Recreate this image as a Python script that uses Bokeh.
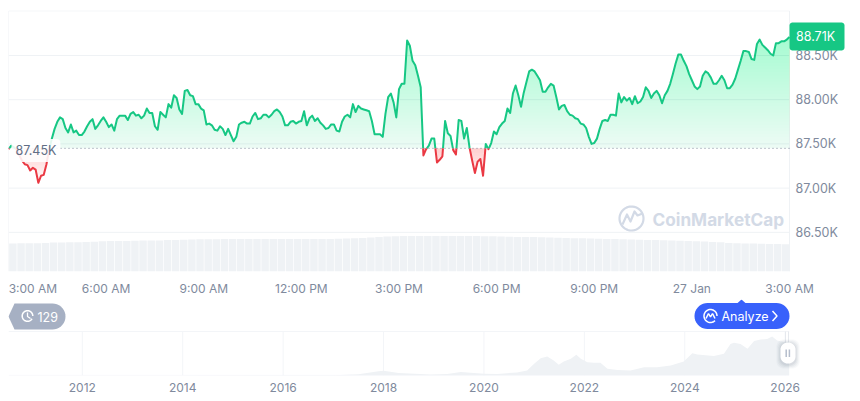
import numpy as np
from bokeh.core.properties import value
from bokeh.embed import file_html
from bokeh.layouts import column
from bokeh.models import FixedTicker, Label, PolyAnnotation, Range1d
from bokeh.plotting import figure
from bokeh.resources import INLINE

# ---- data -----------------------------------------------------------------
baseline_k = 87.45
last_k = 88.71
# price in thousands, one value per 5-minute sample (sample 0 = 3:00 AM)
price_k = [
 87.44,87.48,87.46,87.44,87.37,87.31,87.27,87.26,87.20,87.23,87.21,87.06,87.14,87.15,87.27,87.44,
 87.56,87.67,87.75,87.80,87.78,87.68,87.63,87.72,87.63,87.65,87.60,87.60,87.64,87.70,87.75,87.78,
 87.67,87.71,87.76,87.80,87.75,87.69,87.72,87.65,87.78,87.82,87.82,87.82,87.77,87.84,87.86,87.82,
 87.83,87.79,87.82,87.90,87.85,87.85,87.70,87.66,87.86,87.83,87.80,87.95,87.91,88.05,88.02,87.89,
 87.84,88.10,88.11,88.05,88.04,87.95,87.95,87.90,87.88,87.72,87.73,87.71,87.66,87.65,87.70,87.67,
 87.60,87.67,87.60,87.53,87.58,87.72,87.74,87.75,87.73,87.73,87.81,87.85,87.78,87.79,87.83,87.83,
 87.80,87.83,87.87,87.89,87.86,87.81,87.71,87.71,87.75,87.76,87.73,87.75,87.76,87.87,87.71,87.79,
 87.82,87.76,87.79,87.74,87.71,87.67,87.68,87.72,87.72,87.65,87.64,87.75,87.81,87.83,87.80,87.95,
 87.86,87.93,87.90,87.89,87.88,87.87,87.76,87.61,87.61,87.61,87.58,87.84,88.03,88.07,87.97,87.80,
 88.12,88.18,88.18,88.67,88.61,88.44,88.39,88.27,88.14,87.37,87.44,87.48,87.56,87.56,87.29,87.32,
 87.36,87.76,87.62,87.59,87.43,87.38,87.77,87.76,87.56,87.68,87.46,87.31,87.17,87.30,87.33,87.14,
 87.50,87.44,87.51,87.64,87.61,87.69,87.73,87.76,87.90,87.85,88.07,88.16,88.05,87.92,88.08,88.20,
 88.32,88.34,88.32,88.27,88.22,88.09,88.09,88.14,88.18,88.16,88.03,87.89,87.93,87.94,87.87,87.83,
 87.82,87.79,87.78,87.73,87.72,87.68,87.58,87.50,87.51,87.56,87.67,87.76,87.77,87.76,87.83,87.83,
 87.82,88.07,87.97,88.03,87.99,88.02,87.95,88.04,87.96,87.98,88.03,88.14,88.10,88.02,88.07,88.10,
 88.05,87.96,88.05,88.10,88.18,88.29,88.41,88.51,88.51,88.44,88.38,88.29,88.22,88.15,88.12,88.15,
 88.27,88.32,88.30,88.25,88.18,88.18,88.22,88.27,88.22,88.13,88.13,88.17,88.24,88.34,88.44,88.55,
 88.55,88.54,88.46,88.45,88.63,88.68,88.62,88.59,88.56,88.52,88.50,88.64,88.64,88.66,88.66,88.68,
 88.71]
# volume, one value per 15 minutes
volume_bn = [
 28.0,28.0,28.2,28.3,28.3,28.6, 29.0,29.0,29.2,29.3,29.5,29.7,
 30.3,30.4,30.5,30.6,30.7,30.9, 31.0,31.1,31.4,31.6,31.8,32.0,
 32.2,32.3,32.3,32.4,32.4,32.4, 32.4,32.5,32.5,32.5,32.5,32.5,
 32.5,32.5,32.6,32.6,32.6,32.7, 33.0,33.2,33.5,34.0,34.6,35.0,
 35.2,35.4,35.5,35.6,35.6,35.6, 35.6,35.5,35.6,35.5,35.4,35.3,
 35.2,35.0,34.8,34.6,34.5,34.4, 34.2,34.0,33.8,33.5,33.3,33.2,
 33.0,32.8,32.6,32.4,32.2,32.0, 31.8,31.6,31.4,31.2,31.0,30.8,
 30.5,30.2,30.0,29.6,29.2,28.6, 28.2,28.0,28.0,27.8,27.6,27.4, 27.2]
# the first tick label sits just inside the plot, as in the reference
time_ticks = [9, 36, 72, 108, 144, 180, 216, 252, 288]
time_labels = ["3:00 AM", "6:00 AM", "9:00 AM", "12:00 PM", "3:00 PM", "6:00 PM", "9:00 PM", "27 Jan", "3:00 AM"]
price_ticks = [86.5, 87.0, 87.5, 88.0, 88.5]
price_labels = ["86.50K", "87.00K", "87.50K", "88.00K", "88.50K"]
nav_year = [2010.53, 2013.0, 2016.0, 2017.0, 2017.5, 2017.9, 2018.0, 2018.3, 2018.94, 2019.27, 2019.54, 2019.80,
            2020.0, 2020.27, 2020.66, 2020.86, 2021.0, 2021.13, 2021.26, 2021.39, 2021.49, 2021.59, 2021.73,
            2021.84, 2021.93, 2022.06, 2022.19, 2022.32, 2022.46, 2022.66, 2022.92, 2023.19, 2023.45, 2023.72,
            2023.98, 2024.15, 2024.25, 2024.58, 2024.78, 2024.91, 2024.98, 2025.11, 2025.25, 2025.38, 2025.51,
            2025.64, 2025.74, 2025.84, 2025.98, 2026.08]
nav_price_k = [0, 0.1, 0.5, 1, 4, 14, 15, 8, 3, 5, 11, 8, 6, 5, 10, 16, 38, 56, 61, 48, 35, 45, 54, 67, 54, 43, 41,
               41, 22, 18, 16, 27, 27, 32, 45, 72, 68, 63, 70, 102, 106, 102, 86, 111, 116, 118, 126, 113, 108, 108]
nav_ticks = [2012, 2014, 2016, 2018, 2020, 2022, 2024, 2026]
history_count = "129"

# ---- style ----------------------------------------------------------------
GREEN, RED = "#16C784", "#EA3943"
GRID, AXIS = "#EFF2F5", "#808A9D"
FONT = "Inter"
NAV_CANVAS_TOP = 299
TICK_FONT = "12px"
PRICE_FONT = "12.5px"


def rounded(x0, y0, x1, y1, r):
    t = np.linspace(0, np.pi / 2, 10)
    xs = np.r_[x1 - r + r * np.sin(t), x1 - r + r * np.cos(t), x0 + r - r * np.sin(t), x0 + r - r * np.cos(t)]
    ys = np.r_[y0 + r - r * np.cos(t), y1 - r + r * np.sin(t), y1 - r + r * np.cos(t), y0 + r - r * np.sin(t)]
    return xs, ys


def ring(cx, cy, r):
    t = np.linspace(0, 2 * np.pi, 48)
    return cx + r * np.cos(t), cy + r * np.sin(t)


def style_axis(ax):
    ax.axis_line_color = None
    ax.major_tick_line_color = None
    ax.minor_tick_line_color = None
    ax.major_tick_out = 0
    ax.major_tick_in = 0
    ax.minor_tick_out = 0
    ax.minor_tick_in = 0
    ax.major_label_text_font = FONT
    ax.major_label_text_font_size = TICK_FONT
    ax.major_label_text_color = AXIS


# ---- main chart -----------------------------------------------------------
p = figure(width=860, height=299, output_backend="svg", toolbar_location=None,
           x_range=Range1d(0, 314.18), y_range=Range1d(86.057, 89.009),
           x_axis_location="below", y_axis_location=None,
           min_border_left=8, min_border_top=10, min_border_bottom=28, min_border_right=0)
p.outline_line_color = None
p.background_fill_color = "white"
p.border_fill_color = "white"
p.grid.visible = False
p.extra_y_ranges["vol"] = Range1d(0, 261)
p.extra_x_ranges["px"] = Range1d(8, 860)
p.extra_y_ranges["px"] = Range1d(271, 10)

p.xaxis.ticker = FixedTicker(ticks=time_ticks)
p.xaxis.major_label_overrides = dict(zip(time_ticks, time_labels))
p.xaxis.major_label_standoff = 9
style_axis(p.xaxis[0])

end_x = len(price_k) - 1
p.segment(x0=0, x1=end_x, y0=price_ticks, y1=price_ticks, line_color=GRID)
p.segment(x0=[0, end_x, 0], x1=[0, end_x, end_x], y0=[86.057, 86.057, 89.005], y1=[89.005, 89.005, 89.005], line_color=GRID)
p.text(x=[795] * len(price_ticks), y=price_ticks, text=price_labels, x_range_name="px",
       text_font=value(FONT), text_font_size=value(PRICE_FONT), text_color=AXIS, text_baseline="middle", text_align="left")

vol_x = np.arange(len(volume_bn)) * 3 - 1.375
p.vbar(x=vol_x, top=volume_bn, bottom=0, width=2.75, y_range_name="vol",
       fill_color=GRID, line_color=None)

samples = np.arange(len(price_k))
dense_x = np.linspace(0, samples[-1], 1153)
dense_y = np.interp(dense_x, samples, price_k)

p.varea(dense_x, y1=baseline_k, y2=np.maximum(dense_y, baseline_k), fill_color=GREEN, fill_alpha=0.08)
for level in np.arange(baseline_k + 0.02, 88.75, 0.035):
    p.varea(dense_x, y1=level, y2=np.maximum(dense_y, level), fill_color=GREEN, fill_alpha=0.0065)
for level in np.arange(87.05, baseline_k, 0.035):
    p.varea(dense_x, y1=baseline_k, y2=np.clip(dense_y, level, baseline_k), fill_color=RED, fill_alpha=0.02)

# split the price line where it crosses the baseline
runs = {True: ([], []), False: ([], [])}
cur_x, cur_y = [samples[0]], [price_k[0]]
for i in range(1, len(price_k)):
    a, b = price_k[i - 1], price_k[i]
    if (a >= baseline_k) != (b >= baseline_k):
        cross = samples[i - 1] + (baseline_k - a) / (b - a)
        cur_x.append(cross)
        cur_y.append(baseline_k)
        runs[a >= baseline_k][0].append(cur_x)
        runs[a >= baseline_k][1].append(cur_y)
        cur_x, cur_y = [cross], [baseline_k]
    cur_x.append(samples[i])
    cur_y.append(b)
runs[price_k[-1] >= baseline_k][0].append(cur_x)
runs[price_k[-1] >= baseline_k][1].append(cur_y)
p.multi_line(runs[True][0], runs[True][1], line_color=GREEN, line_width=2, line_join="round")
p.multi_line(runs[False][0], runs[False][1], line_color=RED, line_width=2, line_join="round")

p.line([0, end_x], [baseline_k, baseline_k], line_color=AXIS, line_width=1, line_dash=[1, 3])

# watermark
WM = "#D3DAE6"
wx, wy = ring(631, 218, 12)
p.line(wx, wy, x_range_name="px", y_range_name="px", line_color=WM, line_width=2.2)
p.line([622, 626.5, 630, 634, 637, 642], [224, 214, 221, 211, 215, 213], x_range_name="px", y_range_name="px",
       line_color=WM, line_width=2.2, line_join="round")
p.add_layout(Label(x=652, y=219, x_range_name="px", y_range_name="px", text="CoinMarketCap", text_font=FONT,
                   text_font_style="bold", text_font_size="17.2px", text_color=WM, text_baseline="middle"))

p.add_layout(Label(x=11, y=150, x_units="canvas", y_units="canvas", text=f"{baseline_k:.2f}K", text_font=FONT,
                   text_font_size=PRICE_FONT, text_color="#616E85", text_baseline="middle",
                   background_fill_color="white", background_fill_alpha=0.88, padding=4, border_radius=4))
bx, by = rounded(789, 22, 844, 50, 3)
p.add_layout(PolyAnnotation(xs=list(bx), ys=list(by), xs_units="canvas", ys_units="canvas",
                            fill_color=GREEN, fill_alpha=1, line_color=None))
p.add_layout(Label(x=795.5, y=36, x_units="canvas", y_units="canvas", text=f"{last_k:.2f}K", text_font=FONT,
                   text_font_size=PRICE_FONT, text_color="white", text_baseline="middle"))

# ---- navigator ------------------------------------------------------------
NAV_TOP = 141.9
nav = figure(width=860, height=102, output_backend="svg", toolbar_location=None,
             x_range=Range1d(2010.53, 2027.5), y_range=Range1d(0, 245.16),
             min_border_left=8, min_border_top=0, min_border_bottom=26, min_border_right=0)
nav.outline_line_color = None
nav.grid.visible = False
nav.yaxis.visible = False
nav.extra_x_ranges["px"] = Range1d(8, 860)
nav.extra_y_ranges["px"] = Range1d(375, NAV_CANVAS_TOP)
nav.xaxis.ticker = FixedTicker(ticks=nav_ticks)
nav.xaxis.major_label_overrides = {t: str(t) for t in nav_ticks}
nav.xaxis.major_label_standoff = 7
style_axis(nav.xaxis[0])

nav.segment(x0=nav_ticks, x1=nav_ticks, y0=0, y1=NAV_TOP, line_color="#F3F5F8", line_width=1)
nav.segment(x0=nav_year[0], x1=nav_year[-1], y0=NAV_TOP, y1=NAV_TOP, line_color="#F3F5F8", line_width=1)
nav.segment(x0=nav_year[0], x1=nav_year[-1], y0=0.3, y1=0.3, line_color="#F3F5F8", line_width=1)
nav.varea(nav_year, y1=0, y2=nav_price_k, fill_color=GRID)

px = dict(x_range_name="px", y_range_name="px")
# selection edges and handle
nav.segment(x0=[785, 788], x1=[785, 788], y0=[331, 331], y1=[345, 345], line_color="#E6E9EE", **px)
for grow, alpha in [(4, 0.04), (3, 0.05), (2, 0.06), (1, 0.08)]:
    xs, ys = rounded(780 - grow, 342 - grow + 1, 795 + grow, 363 + grow + 1, 7)
    nav.patch(xs, ys, fill_color="#58667E", fill_alpha=alpha, line_color=None, **px)
xs, ys = rounded(780, 342, 795, 363, 7)
nav.patch(xs, ys, fill_color="white", line_color=None, **px)
nav.segment(x0=[785.7, 788.9], x1=[785.7, 788.9], y0=[349, 349], y1=[356.5, 356.5], line_color="#B5BDCC", line_width=1.5, **px)

# history badge
hx, hy = rounded(12, 303, 65, 329, 13)
keep = hx > 30
nav.patch(np.r_[hx[keep], 14, 8, 14], np.r_[hy[keep], 329, 316, 303], fill_color="#A6B0C3", line_color=None, **px)
cx, cy = ring(27, 315.5, 5.3)
nav.line(cx[4:], cy[4:], line_color="white", line_width=1.5, **px)
nav.line([27, 27, 30], [312, 316, 318], line_color="white", line_width=1.3, **px)
nav.add_layout(Label(x=37, y=316, text=history_count, text_font=FONT, text_font_size="12.5px", text_color="white",
                     text_baseline="middle", **px))

# analyze badge
ax_, ay_ = rounded(694, 302.5, 789, 328.5, 13)
nav.patch(ax_, ay_, fill_color="#3861FB", line_color=None, **px)
nav.patch([736.5, 741, 745.5], [303, 299, 303], fill_color="#3861FB", line_color=None, **px)
rx, ry = ring(710, 315.5, 6.5)
nav.line(rx[6:], ry[6:], line_color="white", line_width=1.5, **px)
nav.line([705.5, 708, 710, 712, 714.5], [318, 313, 316.5, 313, 318], line_color="white", line_width=1.5, **px)
nav.add_layout(Label(x=721, y=316, text="Analyze", text_font=FONT, text_font_size="12.5px", text_color="white",
                     text_baseline="middle", **px))
nav.line([772, 776.5, 772], [310.5, 315.5, 320.5], line_color="white", line_width=1.5, **px)

open("out.html", "w").write(file_html(column(p, nav, spacing=0), INLINE))
